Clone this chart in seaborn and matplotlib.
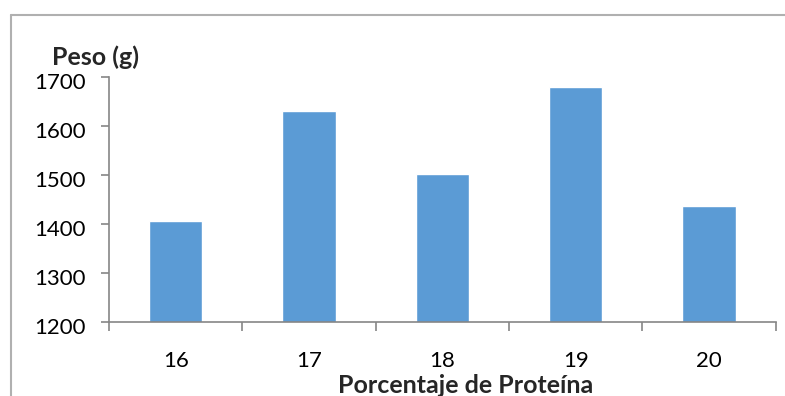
import matplotlib
matplotlib.use('AGG')
import matplotlib.pyplot as plt
import matplotlib.transforms as mtransforms
import seaborn as sns
import pandas as pd
from matplotlib.lines import Line2D

proteina = ["16", "17", "18", "19", "20"]
peso = [1406, 1631, 1502, 1680, 1437]
y_ticks = [1200, 1300, 1400, 1500, 1600, 1700]

sns.set_style("white")
plt.rcParams['font.family'] = ['Lato', 'DejaVu Sans']

df = pd.DataFrame({"proteina": proteina, "peso": peso})

fig = plt.figure(figsize=[7.85, 3.96], dpi=100)
ax = fig.add_axes([0.1389, 0.1876, 0.8493, 0.6167])
sns.barplot(data=df, x="proteina", y="peso", color="#5B9BD5", width=0.4,
            saturation=1, ax=ax)

ax.set_ylim(1200, 1700)
ax.set_yticks(y_ticks)
ax.set_xlim(-0.5, len(proteina) - 0.5)
ax.set_xticks([i - 0.5 for i in range(len(proteina) + 1)], minor=True)
ax.set_xlabel("")
ax.set_ylabel("")

axis_color = "#868686"
for side in ["top", "right"]:
    ax.spines[side].set_visible(False)
for side in ["left", "bottom"]:
    ax.spines[side].set_color(axis_color)
    ax.spines[side].set_linewidth(1.2)

ax.tick_params(axis="y", left=True, length=6, width=1.2, color=axis_color,
               labelsize=16, pad=11, labelcolor="black")
ax.tick_params(axis="x", which="major", length=0, labelsize=16, pad=21,
               labelcolor="black")
ax.tick_params(axis="x", which="minor", bottom=True, length=6.5, width=1.2,
               color=axis_color)

# y labels sit a little below their ticks in the original
shift = mtransforms.ScaledTranslation(0, -4 / 100, fig.dpi_scale_trans)
for lbl in ax.get_yticklabels():
    lbl.set_transform(lbl.get_transform() + shift)

fig.text(95 / 785, 1 - 57 / 396, "Peso (g)", fontsize=18, fontweight="bold",
         ha="center", va="center")
fig.text(465.5 / 785, 1 - 393 / 396, "Porcentaje de Proteína", fontsize=18,
         fontweight="bold", ha="center", va="baseline")

# chart-area frame (only top and left edges are visible in the crop)
frame = "#B0B0B0"
fig.add_artist(Line2D([11 / 785, 1], [1 - 15 / 396, 1 - 15 / 396],
                      color=frame, lw=1.5, transform=fig.transFigure))
fig.add_artist(Line2D([11 / 785, 11 / 785], [1 - 15 / 396, 0],
                      color=frame, lw=1.5, transform=fig.transFigure))

fig.savefig("out.png", dpi=100)
